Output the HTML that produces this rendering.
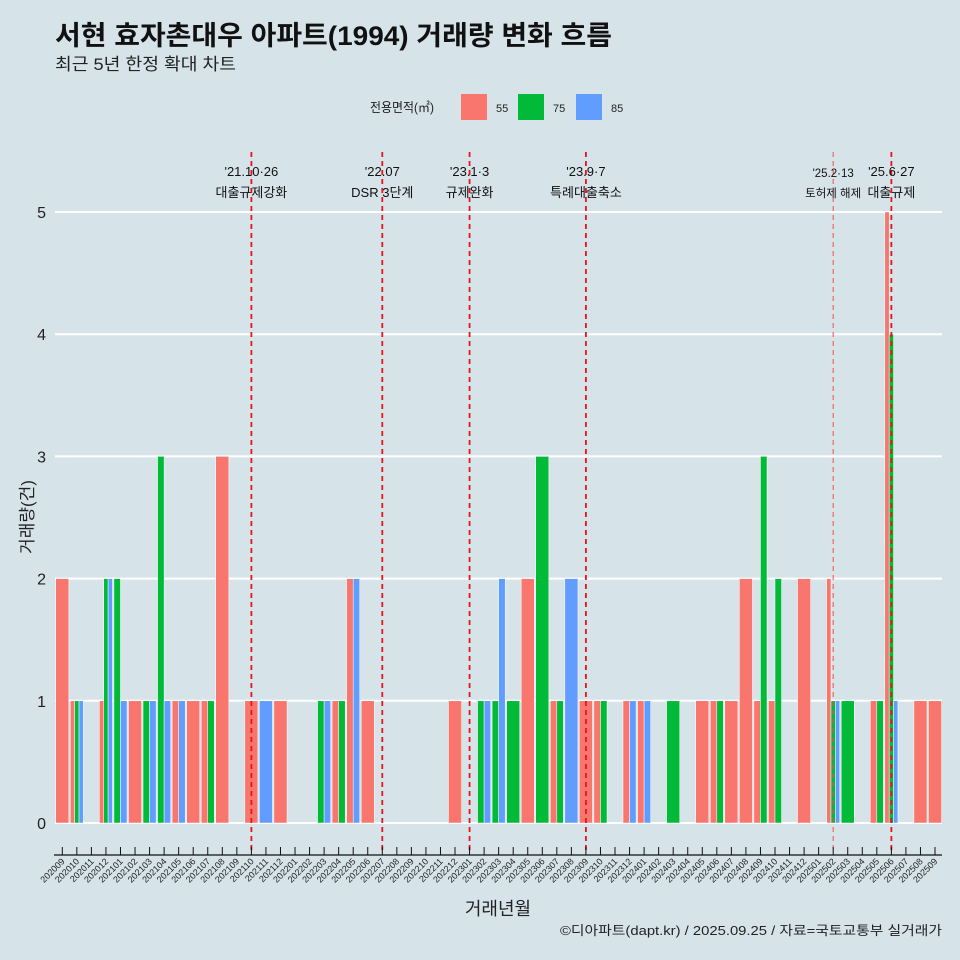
<!DOCTYPE html>
<html><head><meta charset="utf-8">
<style>
html,body{margin:0;padding:0;background:#d6e4ea;}
svg{display:block;font-family:"Liberation Sans","Noto Sans CJK KR",sans-serif;}
</style></head>
<body>
<svg id="chart" width="960" height="960" viewBox="0 0 960 960">
<rect x="0" y="0" width="960" height="960" fill="#d6e4ea"/>
<text x="55" y="45" font-size="27" font-weight="bold" fill="#111" textLength="557" lengthAdjust="spacingAndGlyphs">서현 효자촌대우 아파트(1994) 거래량 변화 흐름</text>
<text x="55" y="70" font-size="17" fill="#222" textLength="181" lengthAdjust="spacingAndGlyphs">최근 5년 한정 확대 차트</text>
<g>
<text x="370" y="112" font-size="13" fill="#222" textLength="64" lengthAdjust="spacingAndGlyphs">전용면적(㎡)</text>
<rect x="461" y="94" width="26" height="26" fill="#f8766d"/>
<text x="496" y="112" font-size="11" fill="#222">55</text>
<rect x="518" y="94" width="26" height="26" fill="#00ba38"/>
<text x="553" y="112" font-size="11" fill="#222">75</text>
<rect x="576" y="94" width="26" height="26" fill="#619cff"/>
<text x="611" y="112" font-size="11" fill="#222">85</text>
</g>
<g id="grid"></g>
<g id="bars"></g>
<g id="events"></g>
<g id="xaxis"></g>
<g id="yaxis"></g>
<text x="498" y="915" font-size="18" text-anchor="middle" fill="#222">거래년월</text>
<text transform="translate(33,517) rotate(-90)" font-size="17" text-anchor="middle" fill="#222">거래량(건)</text>
<text x="942" y="935" font-size="13" text-anchor="end" fill="#222" textLength="382" lengthAdjust="spacingAndGlyphs">©디아파트(dapt.kr) / 2025.09.25 / 자료=국토교통부 실거래가</text>
</svg>
<script>
const months = ["202009","202010","202011","202012","202101","202102","202103","202104","202105","202106","202107","202108","202109","202110","202111","202112","202201","202202","202203","202204","202205","202206","202207","202208","202209","202210","202211","202212","202301","202302","202303","202304","202305","202306","202307","202308","202309","202310","202311","202312","202401","202402","202403","202404","202405","202406","202407","202408","202409","202410","202411","202412","202501","202502","202503","202504","202505","202506","202507","202508","202509"];
const s55 = [2,1,0,1,0,1,0,0,1,1,1,3,0,1,0,1,0,0,0,1,2,1,0,0,0,0,0,1,0,0,0,0,2,0,1,0,1,1,0,1,1,0,0,0,1,1,1,2,1,1,0,2,0,2,0,0,1,5,0,1,1];
const s75 = [0,1,0,2,2,0,1,3,0,0,1,0,0,0,0,0,0,0,1,1,0,0,0,0,0,0,0,0,0,1,1,1,0,3,1,0,0,1,0,0,0,0,1,0,0,1,0,0,3,2,0,0,0,1,1,0,1,4,0,0,0];
const s85 = [0,1,0,2,1,0,1,1,1,0,0,0,0,0,1,0,0,0,1,0,2,0,0,0,0,0,0,0,0,1,2,0,0,0,0,2,0,0,0,1,1,0,0,0,0,0,0,0,0,0,0,0,0,1,0,0,0,1,0,0,0];
const yTicks = [0,1,2,3,4,5];
const eventMonths = ["202110","202207","202301","202309","202502","202506"];
const eventDates = ["'21.10·26","'22.07","'23.1·3","'23.9·7","'25.2·13","'25.6·27"];
const eventLabels = ["대출규제강화","DSR 3단계","규제완화","특례대출축소","토허제 해제","대출규제"];

const NS="http://www.w3.org/2000/svg";
const colors=["#f8766d","#00ba38","#619cff"];
const sizes=["55","75","85"];
const series=[s55,s75,s85];
const step=(935-62.3)/(months.length-1);
function xPos(i){return 62.3+i*step;}
function yPos(v){return 823-v*122.2;}
function mk(tag,attrs,parent){const e=document.createElementNS(NS,tag);for(const k in attrs)e.setAttribute(k,attrs[k]);parent.appendChild(e);return e;}

const grid=document.getElementById('grid');
const yaxis=document.getElementById('yaxis');
yTicks.forEach(t=>{
  const l=mk('line',{x1:55,x2:942,y1:yPos(t),y2:yPos(t),stroke:'#fff','stroke-width':2},grid);
  
  
  const tx=mk('text',{x:46,y:yPos(t)+6,'font-size':16,'text-anchor':'end',fill:'#222'},yaxis);
  tx.textContent=t;
  
  
});

const bars=document.getElementById('bars');
const groupW=step*0.9;
months.forEach((m,i)=>{
  const present=[];
  series.forEach((s,k)=>{if(s[i]>0)present.push(k);});
  if(!present.length)return;
  const w=groupW/present.length;
  const x0=xPos(i)-groupW/2;
  present.forEach((k,j)=>{
    const v=series[k][i];
    const r=mk('rect',{x:x0+j*w,y:yPos(v),width:w,height:yPos(0)-yPos(v),fill:colors[k],stroke:'#fff','stroke-width':0.5},bars);
    
    
  });
});

const ev=document.getElementById('events');
eventMonths.forEach((m,j)=>{
  const i=months.indexOf(m);
  const x=xPos(i);
  const thin=(m==="202502");
  const l=mk('line',{x1:x,x2:x,y1:152,y2:852,stroke:thin?'#f0504a':'#e8141c','stroke-width':thin?1:1.8,'stroke-dasharray':'5,4'},ev);
  
  
  const fs=thin?11.5:13;
  const t1=mk('text',{x:x,y:thin?177:176,'font-size':fs,'text-anchor':'middle',fill:'#111'},ev);
  t1.textContent=eventDates[j];
  
  
  const t2=mk('text',{x:x,y:197,'font-size':fs,'text-anchor':'middle',fill:'#111'},ev);
  t2.textContent=eventLabels[j];
  
  
});

const xa=document.getElementById('xaxis');
const ax=mk('line',{x1:54,x2:942,y1:855,y2:855,stroke:'#111','stroke-width':1.2},xa);


months.forEach((m,i)=>{
  const x=xPos(i);
  const tk=mk('line',{x1:x,x2:x,y1:847,y2:855,stroke:'#111','stroke-width':1},xa);
  
  
  const t=mk('text',{transform:'translate('+(x+3)+',862) rotate(-45)','font-size':9,'text-anchor':'end',fill:'#222'},xa);
  t.textContent=m;
  
  
});
</script>
</body></html>
